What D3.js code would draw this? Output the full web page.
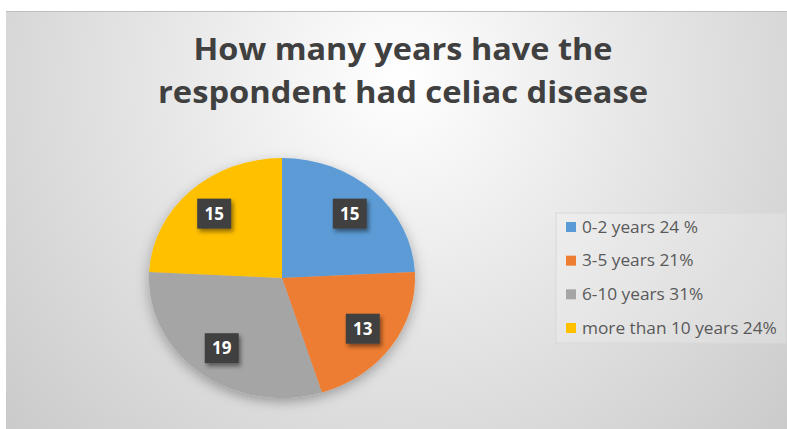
<!DOCTYPE html>
<html>
<head>
<meta charset="utf-8">
<script src="https://cdn.jsdelivr.net/npm/d3@7"></script>
<style>
  html, body { margin: 0; padding: 0; background: #ffffff; }
  svg { display: block; }
</style>
</head>
<body>
<svg id="chart" width="787" height="429"></svg>
<script>
// Years living with celiac disease, number of respondents per group
const categories = ["0-2 years 24 %", "3-5 years 21%", "6-10 years 31%", "more than 10 years 24%"];
const counts = [15, 13, 19, 15];
const colors = ["#5B9BD5", "#ED7D31", "#A5A5A5", "#FFC000"];
const titleLines = ["How many years have the", "respondent had celiac disease"];

const W = 787, H = 429;
const svg = d3.select("#chart");
const defs = svg.append("defs");

// Soft radial background
const bg = defs.append("radialGradient").attr("id", "bgGrad")
  .attr("gradientUnits", "userSpaceOnUse")
  .attr("cx", 400).attr("cy", 80).attr("r", 540);
bg.append("stop").attr("offset", "0%").attr("stop-color", "#ffffff");
bg.append("stop").attr("offset", "45%").attr("stop-color", "#e6e6e6");
bg.append("stop").attr("offset", "100%").attr("stop-color", "#c9c9c9");

const shadow = defs.append("filter").attr("id", "shadow")
  .attr("x", "-30%").attr("y", "-30%").attr("width", "160%").attr("height", "160%");
shadow.append("feDropShadow").attr("dx", 2).attr("dy", 3).attr("stdDeviation", 2)
  .attr("flood-color", "#000").attr("flood-opacity", 0.45);

const pieShadow = defs.append("filter").attr("id", "pieShadow")
  .attr("x", "-20%").attr("y", "-20%").attr("width", "140%").attr("height", "140%");
pieShadow.append("feDropShadow").attr("dx", 0).attr("dy", 4).attr("stdDeviation", 6)
  .attr("flood-color", "#000").attr("flood-opacity", 0.3);

svg.append("rect").attr("x", 6).attr("y", 11).attr("width", W - 6).attr("height", H - 11)
  .attr("fill", "url(#bgGrad)");
svg.append("line").attr("x1", 6).attr("x2", W).attr("y1", 11.5).attr("y2", 11.5)
  .attr("stroke", "#bdbdbd").attr("stroke-width", 1);

// Title
const title = svg.append("g").attr("fill", "#404040")
  .style("font-family", "'Open Sans', sans-serif").style("font-weight", 700)
  .style("font-size", "31px");
const titleSpec = [{y: 60, w: 419}, {y: 103, w: 490}];
title.selectAll("text").data(titleLines).join("text")
  .attr("x", 403).attr("y", (d, i) => titleSpec[i].y)
  .attr("text-anchor", "middle")
  .attr("textLength", (d, i) => titleSpec[i].w)
  .attr("lengthAdjust", "spacingAndGlyphs")
  .text(d => d);

// Pie (slightly wider than tall)
const cx = 282, cy = 278, r = 120, sx = 133 / 120;
const pie = d3.pie().sort(null).value(d => d)(counts);
const arc = d3.arc().innerRadius(0).outerRadius(r);
const labelArc = d3.arc().innerRadius(r * 0.74).outerRadius(r * 0.74);

const pieG = svg.append("g").attr("transform", `translate(${cx},${cy})`);
pieG.append("g").attr("transform", `scale(${sx},1)`).attr("filter", "url(#pieShadow)")
  .selectAll("path").data(pie).join("path")
  .attr("d", arc)
  .attr("fill", (d, i) => colors[i]);

const labels = pieG.selectAll("g.lbl").data(pie).join("g").attr("class", "lbl")
  .attr("transform", d => {
    const [x, y] = labelArc.centroid(d);
    return `translate(${x * sx},${y})`;
  });
labels.append("rect").attr("x", -17).attr("y", -15).attr("width", 34).attr("height", 30)
  .attr("fill", "#404040").attr("filter", "url(#shadow)");
labels.append("text").attr("text-anchor", "middle").attr("dy", "0.36em")
  .attr("fill", "#ffffff")
  .style("font-family", "'Open Sans', sans-serif").style("font-weight", 700)
  .style("font-size", "17px")
  .text(d => d.data);

// Legend
const legend = svg.append("g");
legend.append("rect").attr("x", 556).attr("y", 213).attr("width", 230).attr("height", 130)
  .attr("fill", "#ffffff").attr("fill-opacity", 0.2)
  .attr("stroke", "#d8d8d8").attr("stroke-width", 1);
const rowY = d3.scalePoint().domain(categories).range([227, 328]);
const items = legend.selectAll("g.item").data(categories).join("g").attr("class", "item")
  .attr("transform", d => `translate(566,${rowY(d)})`);
items.append("rect").attr("x", 0).attr("y", -5).attr("width", 10).attr("height", 10)
  .attr("fill", (d, i) => colors[i]);
items.append("text").attr("x", 16).attr("dy", "0.35em")
  .attr("fill", "#595959")
  .style("font-family", "'Open Sans', sans-serif").style("font-size", "16.5px")
  .text(d => d);
// Fit legend text to the legend box width
const longest = d3.max(items.selectAll("text").nodes(), n => n.getComputedTextLength());
const fit = 195 / longest;
items.selectAll("text").attr("transform", `scale(${fit},1)`).attr("x", 16 / fit);
</script>
</body>
</html>
